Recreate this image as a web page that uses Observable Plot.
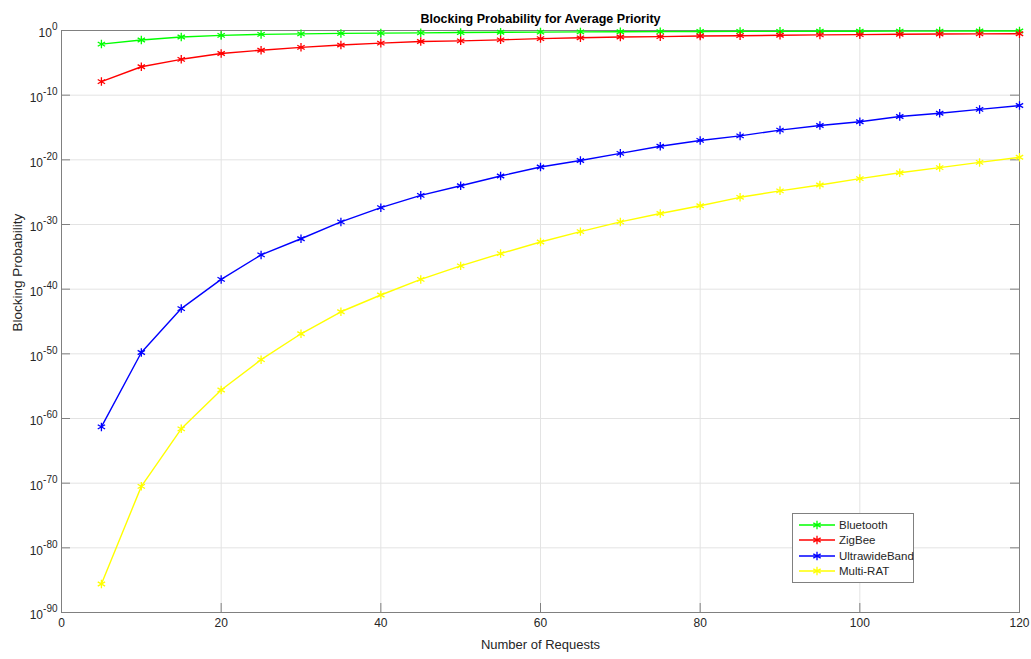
<!DOCTYPE html>
<html><head><meta charset="utf-8">
<script src="https://cdn.jsdelivr.net/npm/d3@7"></script>
<script src="https://cdn.jsdelivr.net/npm/@observablehq/plot@0.6"></script>
<style>
body{margin:0;background:#fff;font-family:"Liberation Sans",Arial,Helvetica,sans-serif;}
#wrap{position:relative;width:1031px;height:659px;}
#legend{position:absolute;left:792px;top:513px;width:122px;height:70px;border:1px solid #808080;background:#fff;box-sizing:border-box;}
#legend .row{position:absolute;left:0;height:14px;display:flex;align-items:center;font-size:11.5px;color:#262626;}
#legend svg{display:block;margin-left:6px;margin-right:3px;}
</style></head><body><div id="wrap"></div>
<script>
const requests = [5,10,15,20,25,30,35,40,45,50,55,60,65,70,75,80,85,90,95,100,105,110,115,120];
const bluetooth = [7.9e-3,3.4e-2,0.10,0.174,0.251,0.302,0.355,0.398,0.437,0.479,0.525,0.562,0.603,0.631,0.661,0.692,0.724,0.741,0.759,0.776,0.794,0.813,0.832,0.851];
const zigbee = [1.26e-8,2.5e-6,3.5e-5,2.8e-4,8.9e-4,2.5e-3,5.6e-3,1.1e-2,2.0e-2,2.5e-2,3.6e-2,5.6e-2,7.4e-2,0.10,0.112,0.141,0.158,0.182,0.209,0.234,0.263,0.282,0.302,0.316];
const ultrawideband = [5.0e-62,1.6e-50,1.0e-43,3.2e-39,2.0e-35,6.3e-33,2.5e-30,4.0e-28,3.2e-26,1.0e-24,3.2e-23,7.9e-22,7.9e-21,1.0e-19,1.26e-18,1.0e-17,5.0e-17,4.0e-16,2.0e-15,7.9e-15,5.0e-14,1.6e-13,6.3e-13,2.5e-12];
const multiRAT = [2.5e-86,3.2e-71,2.5e-62,2.5e-56,1.26e-51,1.26e-47,3.2e-44,1.26e-41,3.2e-39,4.0e-37,3.2e-35,2.0e-33,7.9e-32,2.5e-30,5.0e-29,7.9e-28,1.6e-26,1.6e-25,1.26e-24,1.26e-23,1.0e-22,6.3e-22,4.0e-21,2.5e-20];
const seriesNames = ["Bluetooth","ZigBee","UltrawideBand","Multi-RAT"];
const seriesColors = ["#00ff00","#ff0000","#0000ff","#ffff00"];
const xTicks = [0,20,40,60,80,100,120];
const yTicks = [1e0,1e-10,1e-20,1e-30,1e-40,1e-50,1e-60,1e-70,1e-80,1e-90];
const titleText = "Blocking Probability for Average Priority";
const xLabel = "Number of Requests";
const yLabel = "Blocking Probability";

const seriesValues = [bluetooth, zigbee, ultrawideband, multiRAT];
const rows = [];
seriesNames.forEach((name, i) => {
  requests.forEach((x, j) => rows.push({series: name, x, y: seriesValues[i][j]}));
});

const W = 1031, H = 659, mL = 61, mR = 12, mT = 30, mB = 47;
const fw = W - mL - mR, fh = H - mT - mB, tk = 9;
const axisColor = "#808080";

const chart = Plot.plot({
  width: W, height: H,
  marginLeft: mL, marginRight: mR, marginTop: mT, marginBottom: mB,
  style: {fontFamily: '"Liberation Sans", Arial, Helvetica, sans-serif', fontSize: "12px", color: "#262626", background: "#fff"},
  x: {domain: [0, 120]},
  y: {type: "log", domain: [1e-90, 1]},
  color: {domain: seriesNames, range: seriesColors},
  marks: [
    Plot.gridY(yTicks, {stroke: "#e3e3e3", strokeOpacity: 1}),
    Plot.gridX(xTicks.slice(1, -1), {stroke: "#e3e3e3", strokeOpacity: 1}),
    Plot.frame({stroke: axisColor}),
    Plot.tickY(yTicks, {y: d => d, insetRight: fw - tk, stroke: axisColor}),
    Plot.tickY(yTicks, {y: d => d, insetLeft: fw - tk, stroke: axisColor}),
    Plot.tickX(xTicks, {x: d => d, insetTop: fh - tk, stroke: axisColor}),
    Plot.tickX(xTicks, {x: d => d, insetBottom: fh - tk, stroke: axisColor}),
    Plot.axisY(yTicks, {tickSize: 0, tickPadding: 4, tickFormat: d => String(Math.round(Math.log10(d))), fill: "#262626", label: null}),
    Plot.axisX(xTicks, {tickSize: 0, tickPadding: 6, fill: "#262626", label: null}),
    Plot.line(rows, {x: "x", y: "y", stroke: "series", z: "series", strokeWidth: 1.4}),
    Plot.dot(rows, {x: "x", y: "y", stroke: "series", symbol: "asterisk", r: 4, strokeWidth: 1.3}),
    Plot.text([titleText], {text: d => d, frameAnchor: "top", dy: -16, fontWeight: "bold", fontSize: 12.5, fill: "#000"}),
    Plot.text([xLabel], {text: d => d, frameAnchor: "bottom", dy: 36, fontSize: 13, fill: "#262626"}),
    Plot.text([yLabel], {text: d => d, frameAnchor: "left", dx: -44, dy: 10, rotate: -90, fontSize: 13.5, fill: "#262626"})
  ]
});

// superscript exponents on y tick labels
d3.select(chart).selectAll('g[aria-label="y-axis tick label"] text').each(function () {
  const t = d3.select(this);
  const exp = t.text();
  t.text(null);
  t.append("tspan").attr("dy", "3").text("10");
  t.append("tspan").attr("dy", "-7").attr("font-size", "10px").text(exp);
});

const wrap = document.getElementById("wrap");
wrap.appendChild(chart);

// legend
const legend = document.createElement("div");
legend.id = "legend";
seriesNames.forEach((name, i) => {
  const row = document.createElement("div");
  row.className = "row";
  row.style.top = (4 + i * 15.3) + "px";
  const s = d3.create("svg").attr("width", 37).attr("height", 14);
  s.append("line").attr("x1", 0).attr("x2", 36).attr("y1", 7).attr("y2", 7).attr("stroke", seriesColors[i]).attr("stroke-width", 1.4);
  s.append("path").attr("transform", "translate(18,7)").attr("d", d3.symbol(d3.symbolAsterisk, 16 * Math.PI)()).attr("stroke", seriesColors[i]).attr("stroke-width", 1.3).attr("fill", "none");
  row.appendChild(s.node());
  const label = document.createElement("span");
  label.textContent = name;
  row.appendChild(label);
  legend.appendChild(row);
});
wrap.appendChild(legend);
</script></body></html>
